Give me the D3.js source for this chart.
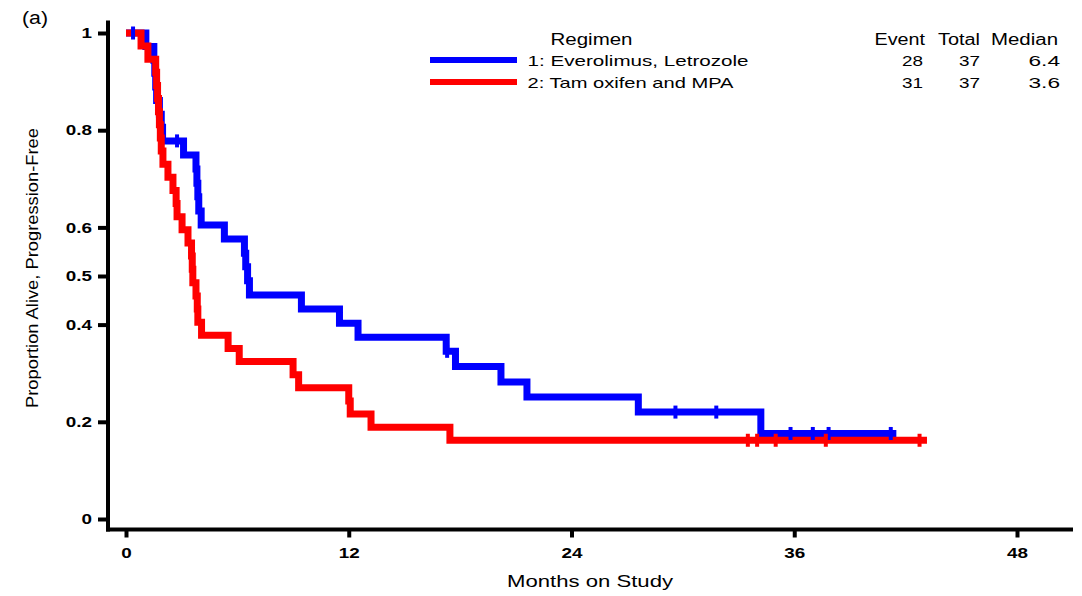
<!DOCTYPE html>
<html><head><meta charset="utf-8">
<script src="https://cdn.jsdelivr.net/npm/d3@7"></script>
<style>
body{margin:0;background:#fff;}
svg{display:block;font-family:'Liberation Sans',Arial,Helvetica,sans-serif;}
</style></head><body>
<svg id="chart" width="1082" height="596"></svg>
<script>
// ---- data ----
const xTicks = [0, 12, 24, 36, 48];
const yTicks = [0, 0.2, 0.4, 0.5, 0.6, 0.8, 1];
const yTickLabels = ["0", "0.2", "0.4", "0.5", "0.6", "0.8", "1"];
const seriesNames = ["1: Everolimus, Letrozole", "2: Tam oxifen and MPA"];
const seriesEvents = ["28", "31"];
const seriesTotals = ["37", "37"];
const seriesMedians = ["6.4", "3.6"];
const seriesColors = ["#0000ff", "#ff0000"];

// Kaplan-Meier steps (time in months, survival after step)
const blueTimes = [0, 1.07, 1.5, 1.55, 1.6, 1.65, 1.8, 1.9, 1.97, 3.1, 3.77, 3.82, 3.87, 3.92, 4.05, 5.3, 6.38, 6.45, 6.55, 6.65, 9.45, 11.5, 12.5, 17.25, 17.75, 20.2, 21.6, 27.6, 34.2];
const blueSurv  = [1, 0.972, 0.944, 0.917, 0.889, 0.861, 0.833, 0.806, 0.778, 0.749, 0.720, 0.691, 0.663, 0.634, 0.605, 0.576, 0.547, 0.519, 0.490, 0.461, 0.432, 0.403, 0.374, 0.345, 0.314, 0.282, 0.251, 0.220, 0.176];
const blueEnd = 41.5;
const blueCensor = [0.38, 2.75, 17.3, 29.6, 31.8, 35.8, 37.0, 37.85, 41.2];

const redTimes = [0, 0.81, 1.18, 1.6, 1.65, 1.7, 1.75, 1.8, 1.85, 1.9, 1.99, 2.26, 2.53, 2.7, 2.75, 3.02, 3.34, 3.53, 3.57, 3.6, 3.77, 3.84, 3.87, 4.07, 5.5, 6.1, 9.0, 9.3, 12.0, 12.08, 13.2, 17.45];
const redSurv  = [1, 0.973, 0.946, 0.919, 0.892, 0.865, 0.838, 0.811, 0.784, 0.757, 0.730, 0.703, 0.676, 0.649, 0.622, 0.595, 0.568, 0.541, 0.514, 0.486, 0.459, 0.432, 0.405, 0.378, 0.351, 0.324, 0.297, 0.270, 0.243, 0.216, 0.189, 0.162];
const redEnd = 43.15;
const redCensor = [33.5, 34.0, 35.0, 37.7, 42.75];

// ---- chart ----
const svg = d3.select("#chart");
const FONT = "'Liberation Sans',Arial,Helvetica,sans-serif";
const x = d3.scaleLinear().domain([0, 48]).range([126, 1017]);
const y = d3.scaleLinear().domain([0, 1]).range([519, 33]);

function stretch(sel, k) {
  sel.each(function () {
    const w = this.getComputedTextLength();
    d3.select(this).attr("textLength", w * k).attr("lengthAdjust", "spacingAndGlyphs");
  });
}
function fixLen(sel, len) {
  sel.attr("textLength", len).attr("lengthAdjust", "spacingAndGlyphs");
}

// axes
const gx = svg.append("g").attr("transform", "translate(0,529.5)")
  .call(d3.axisBottom(x).tickValues(xTicks).tickSize(8).tickPadding(10).tickFormat(d3.format("d")));
gx.select(".domain").remove();
gx.attr("font-family", FONT);
gx.selectAll(".tick line").attr("stroke", "#000").attr("stroke-width", 4);
gx.selectAll(".tick text").attr("font-size", 14.5).attr("font-weight", "bold").attr("fill", "#000");
stretch(gx.selectAll(".tick text"), 1.3);

const gy = svg.append("g").attr("transform", "translate(108,0)")
  .call(d3.axisLeft(y).tickValues(yTicks).tickSize(10).tickPadding(6)
    .tickFormat((d, i) => yTickLabels[i]));
gy.select(".domain").remove();
gy.attr("font-family", FONT);
gy.selectAll(".tick line").attr("stroke", "#000").attr("stroke-width", 4);
gy.selectAll(".tick text").attr("font-size", 14.5).attr("font-weight", "bold").attr("fill", "#000");
stretch(gy.selectAll(".tick text"), 1.3);

svg.append("line").attr("x1", 108).attr("x2", 108).attr("y1", 20.5).attr("y2", 531.5)
  .attr("stroke", "#000").attr("stroke-width", 4);
svg.append("line").attr("x1", 106).attr("x2", 1073).attr("y1", 529.5).attr("y2", 529.5)
  .attr("stroke", "#000").attr("stroke-width", 4);

// curves
function stepPoints(times, surv, end) {
  const pts = times.map((t, i) => [t, surv[i]]);
  pts.push([end, surv[surv.length - 1]]);
  return pts;
}
function survAt(times, surv, t) {
  let s = surv[0];
  for (let i = 0; i < times.length; i++) if (times[i] <= t) s = surv[i];
  return s;
}
const line = d3.line().x(d => x(d[0])).y(d => y(d[1])).curve(d3.curveStepAfter);
const series = [
  { times: blueTimes, surv: blueSurv, end: blueEnd, censor: blueCensor, color: seriesColors[0] },
  { times: redTimes, surv: redSurv, end: redEnd, censor: redCensor, color: seriesColors[1] }
];
series.forEach(s => {
  svg.append("path").datum(stepPoints(s.times, s.surv, s.end))
    .attr("d", line).attr("fill", "none").attr("stroke", s.color)
    .attr("stroke-width", 7).attr("stroke-linejoin", "miter").attr("stroke-linecap", "butt");
});
series.forEach(s => {
  svg.append("g").selectAll("line").data(s.censor).join("line")
    .attr("x1", d => x(d)).attr("x2", d => x(d))
    .attr("y1", d => y(survAt(s.times, s.surv, d)) - 6.5)
    .attr("y2", d => y(survAt(s.times, s.surv, d)) + 6.5)
    .attr("stroke", s.color).attr("stroke-width", 4);
});

// legend
const lg = svg.append("g").attr("font-family", FONT).attr("fill", "#000");
fixLen(lg.append("text").attr("x", 550.5).attr("y", 45).attr("font-size", 16).text("Regimen"), 82);
const headers = [["Event", 925, 50.5], ["Total", 980, 42], ["Median", 1058, 67]];
headers.forEach(h => fixLen(lg.append("text").attr("x", h[1]).attr("y", 45).attr("font-size", 16)
  .attr("text-anchor", "end").text(h[0]), h[2]));
const rowY = [60, 82];
const nameLen = [221, 206];
seriesNames.forEach((nm, i) => {
  lg.append("line").attr("x1", 430).attr("x2", 517).attr("y1", rowY[i]).attr("y2", rowY[i])
    .attr("stroke", seriesColors[i]).attr("stroke-width", 6);
  fixLen(lg.append("text").attr("x", 527.5).attr("y", rowY[i] + 5.7).attr("font-size", 15).text(nm), nameLen[i]);
  fixLen(lg.append("text").attr("x", 923).attr("y", rowY[i] + 5.7).attr("font-size", 15).attr("text-anchor", "end").text(seriesEvents[i]), 21);
  fixLen(lg.append("text").attr("x", 980).attr("y", rowY[i] + 5.7).attr("font-size", 15).attr("text-anchor", "end").text(seriesTotals[i]), 21);
  fixLen(lg.append("text").attr("x", 1060).attr("y", rowY[i] + 5.7).attr("font-size", 15).attr("text-anchor", "end").text(seriesMedians[i]), 31.5);
});

// titles
fixLen(svg.append("text").attr("x", 22).attr("y", 24).attr("font-size", 18).attr("font-family", FONT).text("(a)"), 26);
fixLen(svg.append("text").attr("x", 590).attr("y", 586.5).attr("font-size", 17).attr("font-family", FONT)
  .attr("text-anchor", "middle").text("Months on Study"), 166);
fixLen(svg.append("text").attr("transform", "translate(38,268) rotate(-90)").attr("font-size", 17)
  .attr("font-family", FONT).attr("text-anchor", "middle").text("Proportion Alive, Progression-Free"), 280);
</script>
</body></html>
